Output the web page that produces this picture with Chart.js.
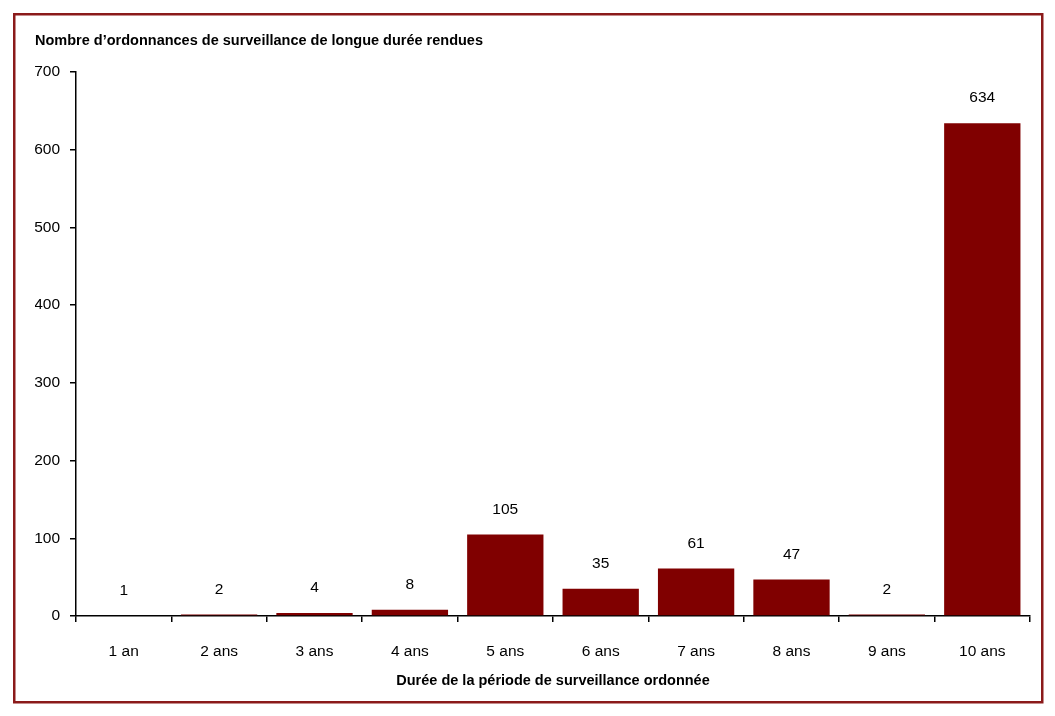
<!DOCTYPE html>
<html>
<head>
<meta charset="utf-8">
<script src="https://cdn.jsdelivr.net/npm/chart.js@4"></script>
<style>
html,body{margin:0;padding:0;background:#fff;}
#wrap{width:1055px;height:716px;position:relative;}
</style>
</head>
<body>
<div id="wrap"><canvas id="c" width="1055" height="716"></canvas></div>
<script>
const categories = ["1 an","2 ans","3 ans","4 ans","5 ans","6 ans","7 ans","8 ans","9 ans","10 ans"];
const counts = [1,2,4,8,105,35,61,47,2,634];
const yTicks = [0,100,200,300,400,500,600,700];
const titleText = "Nombre d\u2019ordonnances de surveillance de longue durée rendues";
const xTitleText = "Durée de la période de surveillance ordonnée";

const FONT = "'Liberation Sans',Arial,sans-serif";
const barColor = "#800000";

const borderPlugin = {
  id: 'frame',
  beforeDraw(chart){
    const ctx = chart.ctx;
    ctx.save();
    ctx.fillStyle = '#fff';
    ctx.fillRect(0,0,chart.width,chart.height);
    ctx.strokeStyle = '#8b1a1a';
    ctx.lineWidth = 2.5;
    ctx.strokeRect(14.25,14.25,1028,688);
    ctx.restore();
  }
};

const labelPlugin = {
  id: 'valueLabels',
  afterDatasetsDraw(chart){
    const ctx = chart.ctx;
    const meta = chart.getDatasetMeta(0);
    ctx.save();
    ctx.font = "15.5px " + FONT;
    ctx.fillStyle = '#000';
    ctx.textAlign = 'center';
    ctx.textBaseline = 'middle';
    meta.data.forEach((bar,i)=>{
      ctx.fillText(String(counts[i]), bar.x, bar.y - 25);
    });
    ctx.restore();
  }
};

new Chart(document.getElementById('c'), {
  type: 'bar',
  data: {
    labels: categories,
    datasets: [{
      data: counts,
      backgroundColor: barColor,
      borderWidth: 0,
      barPercentage: 0.8,
      categoryPercentage: 1.0
    }]
  },
  options: {
    responsive: false,
    animation: false,
    devicePixelRatio: 1,
    layout: { padding: { left: 35, right: 25, top: 32.5, bottom: 26 } },
    plugins: {
      legend: { display: false },
      tooltip: { enabled: false },
      title: {
        display: true,
        text: titleText,
        align: 'start',
        color: '#000',
        font: { family: FONT, size: 14.5, weight: 'bold' },
        padding: { top: 0, bottom: 22 }
      }
    },
    scales: {
      x: {
        type: 'category',
        afterFit(scale){ scale.height = 74; },
        grid: { display: true, drawOnChartArea: false, drawTicks: true, tickLength: 6, color: '#000', lineWidth: 1.5, offset: true },
        border: { display: true, color: '#000', width: 1.5 },
        ticks: { color: '#000', font: { family: FONT, size: 15.5 }, padding: 20, maxRotation: 0 },
        title: { display: true, text: xTitleText, color: '#000', font: { family: FONT, size: 14.5, weight: 'bold' }, padding: { top: 0, bottom: 0 } }
      },
      y: {
        min: 0, max: 700,
        afterBuildTicks(scale){ scale.ticks = yTicks.map(v=>({value:v})); },
        afterFit(scale){ scale.width = 41; },
        grid: { display: true, drawOnChartArea: false, drawTicks: true, tickLength: 6, color: '#000', lineWidth: 1.5 },
        border: { display: true, color: '#000', width: 1.5 },
        ticks: { color: '#000', font: { family: FONT, size: 15.5 }, padding: 10 }
      }
    }
  },
  plugins: [borderPlugin, labelPlugin]
});
</script>
</body>
</html>
